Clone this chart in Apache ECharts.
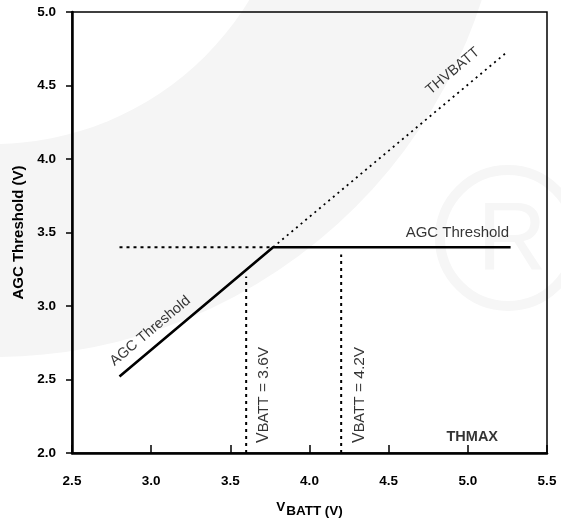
<!DOCTYPE html>
<html>
<head>
<meta charset="utf-8">
<script src="https://cdn.jsdelivr.net/npm/echarts@6/dist/echarts.min.js"></script>
<style>
  html, body { margin: 0; padding: 0; background: #fff; }
  #chart { width: 561px; height: 518px; }
</style>
</head>
<body>
<div id="chart"></div>
<script>
// Axis ranges and tick step
const xRange = [2.5, 5.5];
const yRange = [2.0, 5.0];
const tickStep = 0.5;

// AGC threshold curve: rises with VBATT, then clamps at THMAX
const agcX = [2.8, 3.77, 5.27];
const agcY = [2.52, 3.4, 3.4];

// THVBATT continuation above the clamp point
const thvX = [3.77, 5.25];
const thvY = [3.4, 4.73];

// Clamp level guide to the left of the knee
const levelX = [2.8, 3.77];
const levelY = [3.4, 3.4];

// Vertical markers at VBATT = 3.6 V and 4.2 V
const markerV = [3.6, 4.2];
const markerTop = [3.2, 3.35];

// Annotation texts and where they sit (data units)
const noteText = ['AGC Threshold', 'THVBATT', 'AGC Threshold', 'VBATT = 3.6V', 'VBATT = 4.2V', 'THMAX'];
const noteX = [2.994, 4.905, 5.26, 3.712, 4.316, 5.028];
const noteY = [2.83, 4.598, 3.499, 2.395, 2.395, 2.107];

const pairs = (xs, ys) => xs.map((x, i) => [x, ys[i]]);

const ink = '#000';
const baseFont = 'Liberation Sans, Arial, sans-serif';

const lineSeries = (name, data, style) => ({
  name, type: 'line', data, symbol: 'none', silent: true, z: 3,
  lineStyle: Object.assign({ color: ink }, style)
});

const noteStyles = [
  { rotate: 40, fontSize: 14.5, align: 'center' },
  { rotate: 40, fontSize: 14.5, align: 'center' },
  { rotate: 0, fontSize: 15, align: 'right' },
  { rotate: 90, fontSize: 15.5, align: 'center', sub: true },
  { rotate: 90, fontSize: 15.5, align: 'center', sub: true },
  { rotate: 0, fontSize: 14.5, align: 'center', fontWeight: 'bold' }
];

const noteData = noteText.map((t, i) => {
  const s = noteStyles[i];
  const label = {
    show: true, position: 'inside', rotate: s.rotate, align: s.align,
    verticalAlign: 'middle', color: ink, fontFamily: baseFont,
    fontSize: s.fontSize, fontWeight: s.fontWeight || 'normal'
  };
  if (s.sub) {
    const rest = t.slice(5);
    label.formatter = '{v|V}{s|BATT}{r|' + rest + '}';
    label.rich = {
      v: { fontSize: 16, color: ink, fontFamily: baseFont },
      s: { fontSize: 14.5, color: ink, fontFamily: baseFont },
      r: { fontSize: 15.5, color: ink, fontFamily: baseFont }
    };
  } else {
    label.formatter = t;
  }
  return { value: [noteX[i], noteY[i]], label };
});

const chart = echarts.init(document.getElementById('chart'), null, { renderer: 'canvas' });

chart.setOption({
  backgroundColor: '#fff',
  animation: false,
  graphic: [
    // faint background emblem: wide arc band plus a registered mark
    { type: 'circle', silent: true, z: -12, shape: { cx: -7, cy: -156, r: 513 }, style: { fill: '#f5f5f5' } },
    { type: 'circle', silent: true, z: -11, shape: { cx: -7, cy: -156, r: 300 }, style: { fill: '#fff' } },
    { type: 'circle', silent: true, z: -10, shape: { cx: 508, cy: 238, r: 68 }, style: { fill: 'none', stroke: '#f6f6f6', lineWidth: 10 } },
    { type: 'text', silent: true, z: -10, style: { x: 512, y: 244, text: 'R', fill: '#f6f6f6', fontSize: 96, fontFamily: baseFont, align: 'center', verticalAlign: 'middle' } }
  ],
  grid: {
    left: 72, right: 14, top: 12, bottom: 65,
    containLabel: false, outerBoundsMode: 'none',
    show: true, borderColor: ink, borderWidth: 1.5, backgroundColor: 'transparent'
  },
  xAxis: {
    type: 'value', min: xRange[0], max: xRange[1], interval: tickStep,
    name: '{v|V}{s|BATT (V)}', nameLocation: 'middle', nameGap: 47,
    nameTextStyle: {
      rich: {
        v: { fontSize: 13.5, fontWeight: 'bold', color: ink, fontFamily: baseFont, verticalAlign: 'top', lineHeight: 18 },
        s: { fontSize: 13.5, fontWeight: 'bold', color: ink, fontFamily: baseFont, verticalAlign: 'bottom', lineHeight: 18, padding: [0, 0, 0, 1] }
      }
    },
    axisLine: { show: true, onZero: false, lineStyle: { color: ink, width: 2.5 } },
    axisTick: { show: true, inside: true, length: 8, lineStyle: { color: ink, width: 1.5 } },
    axisLabel: { color: ink, fontSize: 13.5, fontWeight: 'bold', fontFamily: baseFont, margin: 21,
      formatter: v => v.toFixed(1) },
    splitLine: { show: false }
  },
  yAxis: {
    type: 'value', min: yRange[0], max: yRange[1], interval: tickStep,
    name: 'AGC Threshold (V)', nameLocation: 'middle', nameGap: 42,
    nameTextStyle: { fontSize: 15, fontWeight: 'bold', color: ink, fontFamily: baseFont },
    axisLine: { show: true, onZero: false, lineStyle: { color: ink, width: 2.5 } },
    axisTick: { show: true, inside: false, length: 6, lineStyle: { color: ink, width: 1.5 } },
    axisLabel: { color: ink, fontSize: 13.5, fontWeight: 'bold', fontFamily: baseFont, margin: 16,
      formatter: v => v.toFixed(1) },
    splitLine: { show: false }
  },
  series: [
    lineSeries('AGC Threshold', pairs(agcX, agcY), { width: 2.6, type: 'solid' }),
    lineSeries('THVBATT', pairs(thvX, thvY), { width: 1.8, type: [2, 4] }),
    lineSeries('Clamp level', pairs(levelX, levelY), { width: 2, type: [3, 4] }),
    ...markerV.map((v, i) => lineSeries('VBATT ' + v, [[v, yRange[0]], [v, markerTop[i]]], { width: 2, type: [3, 4] })),
    {
      name: 'notes', type: 'scatter', symbolSize: 0, silent: true, z: 4,
      data: noteData
    }
  ]
});
</script>
</body>
</html>
